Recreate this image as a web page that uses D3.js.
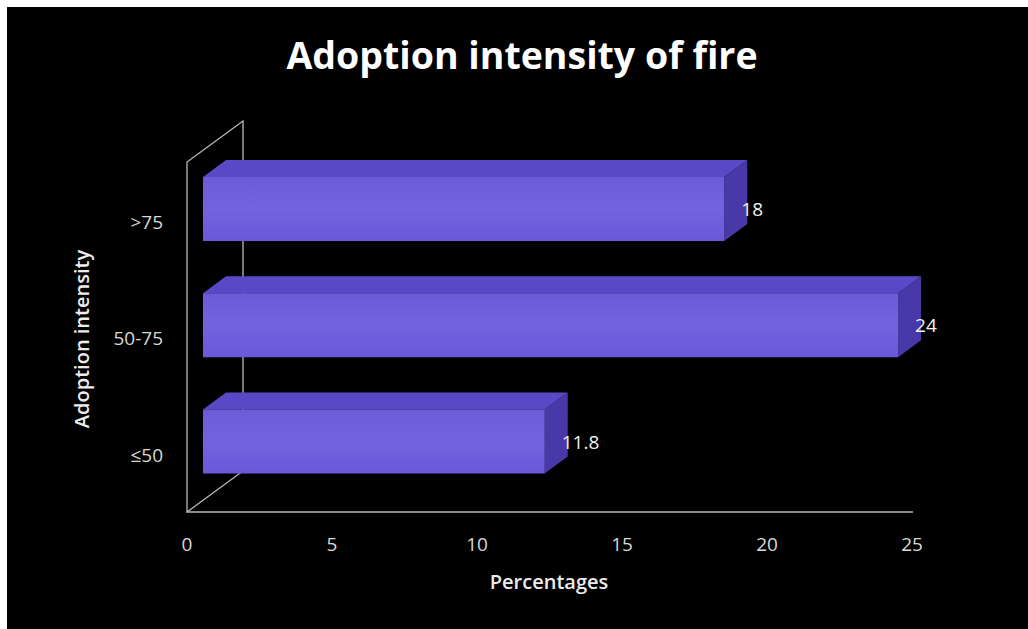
<!DOCTYPE html>
<html>
<head>
<meta charset="utf-8">
<script src="https://cdn.jsdelivr.net/npm/d3@7"></script>
<style>
  html, body { margin: 0; padding: 0; background: #000000; overflow: hidden; }
  svg { display: block; }
</style>
</head>
<body>
<svg id="chart" width="1028" height="629"></svg>
<script>
// ---- data ----
const categories = [">75", "50-75", "≤50"];
const values = [18, 24, 11.8];
const valueLabels = ["18", "24", "11.8"];
const xTicks = [0, 5, 10, 15, 20, 25];
const chartTitle = "Adoption intensity of fire";
const xTitle = "Percentages";
const yTitle = "Adoption intensity";

// ---- layout ----
const W = 1028, H = 629;
const svg = d3.select("#chart");
const font = "'Open Sans', 'Noto Sans', sans-serif";

// background (white margin at top/left like the scan)
svg.append("rect").attr("x", 0).attr("y", 0).attr("width", W).attr("height", H).attr("fill", "#ffffff");
svg.append("rect").attr("x", 7).attr("y", 7).attr("width", W - 7).attr("height", H - 7).attr("fill", "#000000");

// scales
const floorY = 512;
const wallTop = 162;
const wallDx = 56, wallDy = -41;    // depth of the plot box
const barDx = 23, barDy = -17;      // depth of each bar
const barH = 64;

const xAxisScale = d3.scaleLinear().domain([0, 25]).range([187, 912]);
const xFront = d3.scaleLinear().domain([0, 25]).range([203, 927]);
const yCenter = d3.scalePoint().domain(categories).range([209, 441.5]);

// left wall outline
const wall = d3.path();
wall.moveTo(xAxisScale(0), floorY);
wall.lineTo(xAxisScale(0), wallTop);
wall.lineTo(xAxisScale(0) + wallDx, wallTop + wallDy);
wall.lineTo(xAxisScale(0) + wallDx, floorY + wallDy);
wall.closePath();
svg.append("path").attr("d", wall.toString())
  .attr("fill", "none").attr("stroke", "#b8b8b8").attr("stroke-width", 1.3);

// floor front edge (x axis line)
svg.append("line")
  .attr("x1", xAxisScale(0)).attr("x2", xAxisScale(25) + 1)
  .attr("y1", floorY).attr("y2", floorY)
  .attr("stroke", "#b8b8b8").attr("stroke-width", 1.3);

// gradients
const defs = svg.append("defs");
const gFront = defs.append("linearGradient").attr("id", "gFront").attr("x1", 0).attr("y1", 0).attr("x2", 0).attr("y2", 1);
gFront.append("stop").attr("offset", "0%").attr("stop-color", "#6c5bd8");
gFront.append("stop").attr("offset", "50%").attr("stop-color", "#7363de");
gFront.append("stop").attr("offset", "100%").attr("stop-color", "#6a58da");

// bars
const data = categories.map((c, i) => ({ cat: c, v: values[i], label: valueLabels[i] }));
const bars = svg.append("g").selectAll("g").data(data).join("g");

bars.each(function (d) {
  const g = d3.select(this);
  const x0 = xFront(0), x1 = xFront(d.v);
  const yT = yCenter(d.cat) - barH / 2, yB = yCenter(d.cat) + barH / 2;
  // top face
  g.append("path")
    .attr("d", `M${x0},${yT} L${x0 + barDx},${yT + barDy} L${x1 + barDx},${yT + barDy} L${x1},${yT} Z`)
    .attr("fill", "#5a49c6");
  // side face
  g.append("path")
    .attr("d", `M${x1},${yT} L${x1 + barDx},${yT + barDy} L${x1 + barDx},${yB + barDy} L${x1},${yB} Z`)
    .attr("fill", "#4838a8");
  // front face
  g.append("rect")
    .attr("x", x0).attr("y", yT)
    .attr("width", x1 - x0).attr("height", barH)
    .attr("fill", "url(#gFront)");
  // value label
  g.append("text")
    .attr("x", x1 + 17).attr("y", yCenter(d.cat) + 2)
    .attr("dominant-baseline", "middle")
    .attr("font-family", font).attr("font-size", 19)
    .attr("fill", "#f2f2f2")
    .text(d.label);
});

// category labels
svg.append("g").selectAll("text").data(categories).join("text")
  .attr("x", 163).attr("y", d => yCenter(d) + 15)
  .attr("text-anchor", "end").attr("dominant-baseline", "middle")
  .attr("font-family", font).attr("font-size", 19)
  .attr("fill", "#d8d8d8")
  .text(d => d);

// x tick labels
svg.append("g").selectAll("text").data(xTicks).join("text")
  .attr("x", d => xAxisScale(d)).attr("y", 546)
  .attr("text-anchor", "middle").attr("dominant-baseline", "middle")
  .attr("font-family", font).attr("font-size", 19)
  .attr("fill", "#d8d8d8")
  .text(d => d);

// titles
svg.append("text")
  .attr("x", 522).attr("y", 69)
  .attr("text-anchor", "middle")
  .attr("font-family", font).attr("font-size", 37.5).attr("font-weight", 700)
  .attr("fill", "#ffffff")
  .text(chartTitle);

svg.append("text")
  .attr("x", 549).attr("y", 584)
  .attr("text-anchor", "middle").attr("dominant-baseline", "middle")
  .attr("font-family", font).attr("font-size", 20).attr("font-weight", 600)
  .attr("fill", "#ececec")
  .text(xTitle);

svg.append("text")
  .attr("transform", "translate(84,339) rotate(-90)")
  .attr("text-anchor", "middle").attr("dominant-baseline", "middle")
  .attr("font-family", font).attr("font-size", 20).attr("font-weight", 600)
  .attr("fill", "#ececec")
  .text(yTitle);
</script>
</body>
</html>
